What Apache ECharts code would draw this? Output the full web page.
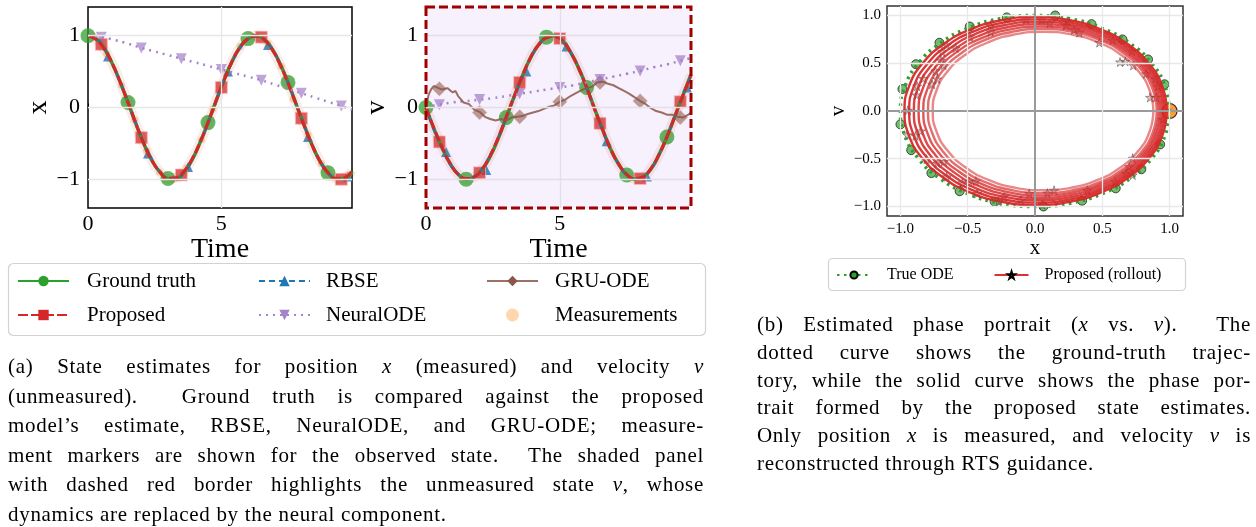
<!DOCTYPE html>
<html>
<head>
    <meta charset="utf-8">
    <title>State estimates and phase portrait</title>
    <script src="https://cdn.jsdelivr.net/npm/echarts@6/dist/echarts.min.js"></script>
    <style type="text/css">
        * { margin: 0; padding: 0; }
        body { width: 1256px; height: 527px; background: #fff; position: relative; overflow: hidden; }
        #main { position: absolute; left: 0; top: 0; width: 1256px; height: 527px; }
        .cap { position: absolute; font-family: "Liberation Serif", serif; font-size: 21px; letter-spacing: 0.7px; color: #000; }
        .cap div { text-align: justify; text-align-last: justify; }
        .cap div.last { text-align-last: left; }
    </style>
</head>
<body>
<div id="main"></div>
<div class="cap" style="left:8px; top:352px; width:696px; line-height:29.5px;">
    <div>(a) State estimates for position <i>x</i> (measured) and velocity <i>v</i></div>
    <div>(unmeasured).&nbsp; Ground truth is compared against the proposed</div>
    <div>model’s estimate, RBSE, NeuralODE, and GRU-ODE; measure-</div>
    <div>ment markers are shown for the observed state.&nbsp; The shaded panel</div>
    <div>with dashed red border highlights the unmeasured state <i>v</i>, whose</div>
    <div class="last">dynamics are replaced by the neural component.</div>
</div>
<div class="cap" style="left:757px; top:311px; width:494px; line-height:27.8px;">
    <div>(b) Estimated phase portrait (<i>x</i> vs. <i>v</i>).&nbsp; The</div>
    <div>dotted curve shows the ground-truth trajec-</div>
    <div>tory, while the solid curve shows the phase por-</div>
    <div>trait formed by the proposed state estimates.</div>
    <div>Only position <i>x</i> is measured, and velocity <i>v</i> is</div>
    <div class="last">reconstructed through RTS guidance.</div>
</div>
<script type="text/javascript">
    // ---- data ----
    var timeGrid = [0,0.3,0.6,0.9,1.2,1.5,1.8,2.1,2.4,2.7,3.0,3.3,3.6,3.9,4.2,4.5,4.8,5.1,5.4,5.7,6.0,6.3,6.6,6.9,7.2,7.5,7.8,8.1,8.4,8.7,9.0,9.3,9.6,9.9];
    var truthX = [1.00,0.96,0.83,0.62,0.36,0.07,-0.23,-0.51,-0.74,-0.90,-0.99,-0.99,-0.90,-0.73,-0.49,-0.21,0.09,0.38,0.64,0.84,0.96,1.00,0.95,0.82,0.61,0.35,0.05,-0.24,-0.52,-0.75,-0.91,-0.99,-0.99,-0.89];
    var proposedX = [1.00,0.95,0.82,0.62,0.36,0.07,-0.23,-0.51,-0.74,-0.90,-0.99,-0.98,-0.89,-0.72,-0.49,-0.21,0.09,0.38,0.64,0.84,0.96,1.00,0.95,0.81,0.60,0.34,0.05,-0.25,-0.52,-0.75,-0.91,-0.99,-0.98,-0.88];
    var rbseX = [1.00,0.96,0.83,0.62,0.36,0.08,-0.22,-0.50,-0.73,-0.90,-0.98,-0.98,-0.90,-0.73,-0.49,-0.22,0.08,0.37,0.63,0.83,0.95,0.99,0.95,0.82,0.61,0.35,0.06,-0.24,-0.51,-0.74,-0.90,-0.99,-0.98,-0.89];
    var truthV = [0,-0.30,-0.56,-0.78,-0.93,-1.00,-0.97,-0.86,-0.68,-0.43,-0.14,0.16,0.44,0.69,0.87,0.98,1.00,0.93,0.77,0.55,0.28,-0.02,-0.31,-0.58,-0.79,-0.94,-1.00,-0.97,-0.86,-0.66,-0.41,-0.12,0.17,0.46];
    var proposedV = [0,-0.29,-0.55,-0.78,-0.93,-0.99,-0.97,-0.86,-0.67,-0.42,-0.13,0.16,0.44,0.69,0.87,0.97,0.99,0.93,0.77,0.55,0.28,-0.02,-0.31,-0.58,-0.79,-0.93,-0.99,-0.97,-0.85,-0.66,-0.41,-0.12,0.17,0.45];
    var rbseV = [0,-0.31,-0.57,-0.79,-0.93,-0.99,-0.96,-0.85,-0.66,-0.42,-0.14,0.15,0.43,0.68,0.86,0.97,0.99,0.92,0.77,0.55,0.28,-0.03,-0.32,-0.59,-0.79,-0.94,-0.99,-0.96,-0.85,-0.66,-0.41,-0.12,0.17,0.45];

    var neuralT = [0,0.5,1,1.5,2,2.5,3,3.5,4,4.5,5,5.5,6,6.5,7,7.5,8,8.5,9,9.5,9.9];
    var neuralX = [1.00,0.98,0.94,0.89,0.83,0.78,0.73,0.68,0.63,0.58,0.53,0.48,0.43,0.38,0.32,0.26,0.20,0.14,0.08,0.02,-0.03];
    var neuralV = [0.00,0.04,0.07,0.09,0.11,0.13,0.16,0.19,0.22,0.25,0.28,0.31,0.35,0.39,0.43,0.47,0.51,0.56,0.60,0.65,0.69];

    var gruT = [0,0.1,0.2,0.3,0.4,0.6,0.8,1.0,1.1,1.2,1.4,1.6,1.8,2.0,2.2,2.4,2.6,2.8,3.0,3.2,3.4,3.6,3.8,4.0,4.2,4.4,4.6,4.8,5.0,5.2,5.4,5.6,5.8,6.0,6.2,6.4,6.6,6.8,7.0,7.2,7.4,7.6,7.8,8.0,8.2,8.4,8.6,8.8,9.0,9.2,9.4,9.6,9.8,9.9];
    var gruV = [0.00,0.18,0.26,0.30,0.28,0.25,0.27,0.21,0.23,0.16,0.07,0.05,-0.03,-0.06,-0.13,-0.16,-0.18,-0.16,-0.18,-0.14,-0.13,-0.12,-0.09,-0.07,-0.05,-0.02,0.01,0.03,0.08,0.11,0.16,0.20,0.24,0.27,0.29,0.35,0.36,0.33,0.31,0.27,0.23,0.19,0.14,0.09,0.05,-0.01,-0.05,-0.07,-0.10,-0.10,-0.13,-0.14,-0.10,-0.07];

    // marker positions
    var truthMarkT = [0,1.5,3.0,4.5,6.0,7.5,9.0];
    var truthMarkX = [1.00,0.07,-0.99,-0.21,0.96,0.35,-0.91];
    var truthMarkV = [0.00,-1.00,-0.14,0.98,0.28,-0.94,-0.41];
    var propMarkT = [0.5,2.0,3.5,5.0,6.5,8.0,9.5];
    var propMarkX = [0.88,-0.42,-0.94,0.28,0.98,-0.15,-1.00];
    var propMarkV = [-0.48,-0.91,0.35,0.96,-0.22,-0.99,0.08];
    var rbseMarkT = [0.75,2.25,3.75,5.25,6.75,8.25,9.75];
    var rbseMarkX = [0.71,-0.64,-0.83,0.50,0.87,-0.41,-0.96];
    var rbseMarkV = [-0.62,-0.87,0.50,0.85,-0.47,-0.96,0.28];
    var neuralMarkX = [0.98,0.83,0.68,0.53,0.38,0.20,0.02];
    var neuralMarkV = [0.04,0.11,0.19,0.28,0.39,0.51,0.65];
    var gruMarkV = [0.26,-0.07,-0.13,0.08,0.35,0.09,-0.14];
    var measT = [0.25,0.7,1.25,1.75,2.2,2.68,3.2,3.7,4.25,4.68,5.2,5.7,6.2,6.75,7.25,7.69,8.25,8.75,9.25,9.75];
    var measX = [0.98,0.75,0.31,-0.17,-0.60,-0.90,-1.00,-0.84,-0.45,-0.02,0.47,0.85,0.99,0.89,0.57,0.12,-0.38,-0.78,-0.98,-0.94];

    // phase portrait
    var trueCircle = [[1,0],[0.966,0.259],[0.866,0.5],[0.707,0.707],[0.5,0.866],[0.259,0.966],[0,1],[-0.259,0.966],[-0.5,0.866],[-0.707,0.707],[-0.866,0.5],[-0.966,0.259],[-1,0],[-0.966,-0.259],[-0.866,-0.5],[-0.707,-0.707],[-0.5,-0.866],[-0.259,-0.966],[0,-1],[0.259,-0.966],[0.5,-0.866],[0.707,-0.707],[0.866,-0.5],[0.966,-0.259],[1,0]];
    var trueMarkers = [[-0.21,0.98],[-0.485,0.885],[-0.71,0.715],[-0.885,0.49],[-0.985,0.23],[-1.0,-0.14],[-0.92,-0.41],[-0.77,-0.65],[-0.56,-0.84],[-0.30,-0.95],[0.15,1.0],[0.42,0.91],[0.65,0.75],[0.84,0.54],[0.963,0.28],[0.93,-0.35],[0.79,-0.61],[0.60,-0.81],[0.35,-0.94],[0.063,-1.0]];
    var loop1 = [[0.98,0],[0.947,0.255],[0.849,0.493],[0.694,0.696],[0.493,0.853],[0.258,0.951],[0.005,0.985],[-0.248,0.951],[-0.483,0.853],[-0.684,0.696],[-0.839,0.493],[-0.937,0.255],[-0.97,0],[-0.937,-0.255],[-0.839,-0.493],[-0.684,-0.696],[-0.483,-0.853],[-0.248,-0.951],[0.005,-0.985],[0.258,-0.951],[0.493,-0.853],[0.694,-0.696],[0.849,-0.493],[0.947,-0.255],[0.98,0]];
    var loop2 = [[0.965,0],[0.933,0.249],[0.838,0.48],[0.687,0.679],[0.49,0.831],[0.261,0.927],[0.015,0.96],[-0.231,0.927],[-0.46,0.831],[-0.657,0.679],[-0.808,0.48],[-0.903,0.249],[-0.935,0],[-0.903,-0.249],[-0.808,-0.48],[-0.657,-0.679],[-0.46,-0.831],[-0.231,-0.927],[0.015,-0.96],[0.261,-0.927],[0.49,-0.831],[0.687,-0.679],[0.838,-0.48],[0.933,-0.249],[0.965,0]];
    var loop3 = [[0.95,0],[0.919,0.242],[0.826,0.468],[0.679,0.661],[0.488,0.81],[0.265,0.903],[0.025,0.935],[-0.215,0.903],[-0.438,0.81],[-0.629,0.661],[-0.776,0.468],[-0.869,0.242],[-0.9,0],[-0.869,-0.242],[-0.776,-0.468],[-0.629,-0.661],[-0.438,-0.81],[-0.215,-0.903],[0.025,-0.935],[0.265,-0.903],[0.488,-0.81],[0.679,-0.661],[0.826,-0.468],[0.919,-0.242],[0.95,0]];
    var loop4 = [[0.935,0],[0.904,0.236],[0.814,0.455],[0.671,0.643],[0.485,0.788],[0.268,0.879],[0.035,0.91],[-0.198,0.879],[-0.415,0.788],[-0.601,0.643],[-0.744,0.455],[-0.834,0.236],[-0.865,0],[-0.834,-0.236],[-0.744,-0.455],[-0.601,-0.643],[-0.415,-0.788],[-0.198,-0.879],[0.035,-0.91],[0.268,-0.879],[0.485,-0.788],[0.671,-0.643],[0.814,-0.455],[0.904,-0.236],[0.935,0]];
    var loop5 = [[0.92,0],[0.89,0.229],[0.803,0.443],[0.664,0.626],[0.483,0.766],[0.272,0.855],[0.045,0.885],[-0.182,0.855],[-0.393,0.766],[-0.574,0.626],[-0.713,0.443],[-0.8,0.229],[-0.83,0],[-0.8,-0.229],[-0.713,-0.443],[-0.574,-0.626],[-0.393,-0.766],[-0.182,-0.855],[0.045,-0.885],[0.272,-0.855],[0.483,-0.766],[0.664,-0.626],[0.803,-0.443],[0.89,-0.229],[0.92,0]];
    var loop6 = [[0.905,0],[0.876,0.223],[0.791,0.43],[0.656,0.608],[0.48,0.745],[0.275,0.831],[0.055,0.86],[-0.165,0.831],[-0.37,0.745],[-0.546,0.608],[-0.681,0.43],[-0.766,0.223],[-0.795,0],[-0.766,-0.223],[-0.681,-0.43],[-0.546,-0.608],[-0.37,-0.745],[-0.165,-0.831],[0.055,-0.86],[0.275,-0.831],[0.48,-0.745],[0.656,-0.608],[0.791,-0.43],[0.876,-0.223],[0.905,0]];
    var loop7 = [[0.88,0],[0.852,0.215],[0.77,0.415],[0.64,0.587],[0.47,0.719],[0.272,0.802],[0.06,0.83],[-0.152,0.802],[-0.35,0.719],[-0.52,0.587],[-0.65,0.415],[-0.732,0.215],[-0.76,0],[-0.732,-0.215],[-0.65,-0.415],[-0.52,-0.587],[-0.35,-0.719],[-0.152,-0.802],[0.06,-0.83],[0.272,-0.802],[0.47,-0.719],[0.64,-0.587],[0.77,-0.415],[0.852,-0.215],[0.88,0]];
    var rolloutLoops = [loop1, loop2, loop3, loop4, loop5, loop6, loop7];
    var loopOpacity = [0.95, 0.92, 0.88, 0.84, 0.78, 0.68, 0.55];
    var rolloutStars = [[-0.067,0.955],[-0.33,0.90],[-0.33,0.83],[-0.485,0.78],[-0.655,0.69],[-0.59,0.66],[-0.69,0.62],[-0.70,0.53],[-0.68,0.48],[-0.74,0.42],[-0.83,0.34],[-0.727,0.335],[-0.765,0.28],[-0.876,0.26],[-0.88,0.167],[-0.945,0.007],[-0.95,-0.25],[-0.888,-0.26],[-0.85,-0.21],[-0.806,-0.505],[-0.726,-0.547],[-0.677,-0.53],[-0.657,-0.69],[-0.54,-0.752],[-0.49,-0.74],[-0.44,-0.735],[-0.43,-0.865],[-0.23,-0.90],[-0.105,-0.935],[-0.043,-0.865],[-0.27,-0.95],[0.05,0.955],[0.109,0.92],[0.24,0.94],[0.23,0.895],[0.29,0.85],[0.33,0.82],[0.478,0.717],[0.577,0.742],[0.632,0.513],[0.672,0.52],[0.72,0.626],[0.73,0.477],[0.826,0.39],[0.895,0.336],[0.913,0.258],[0.855,0.142],[0.90,0.142],[0.95,-0.088],[0.726,-0.495],[0.70,-0.584],[0.676,-0.654],[0.726,-0.671],[0.597,-0.742],[0.39,-0.83],[0.142,-0.83],[0.092,-0.86],[0.055,-0.98]];
    var startPoint = [[1.0, 0.0]];

    // tick values
    var timeTicks = [0, 5];
    var stateTicks = [-1, 0, 1];
    var phaseTicks = [-1, -0.5, 0, 0.5, 1];

    // ---- layout ----
    var SERIF = '"Liberation Serif", "Times New Roman", serif';
    var boxX = {left: 88, top: 7, width: 264, height: 201};
    var boxV = {left: 426, top: 7, width: 265, height: 201};
    var boxP = {left: 887, top: 6, width: 296, height: 210};
    var STAR = 'path://M50,0 L61,35 L98,35 L68,57 L79,91 L50,70 L21,91 L32,57 L2,35 L39,35 Z';

    function pairs(t, y) {
        return t.map(function (v, i) { return [v, y[i]]; });
    }
    function minusFmt(v) {
        return v < 0 ? '\u2212' + Math.abs(v) : String(v);
    }
    function minusFmt1(v) {
        return (v < 0 ? '\u2212' : '') + Math.abs(v).toFixed(1);
    }

    function timeAxis(gi) {
        return {
            type: 'value', gridIndex: gi, min: 0, max: 9.9,
            name: 'Time', nameLocation: 'middle', nameGap: 23,
            nameTextStyle: {fontFamily: SERIF, fontSize: 28, color: '#000'},
            axisLine: {show: false},
            axisTick: {show: true, inside: true, length: 4, customValues: timeTicks, lineStyle: {color: '#000'}},
            axisLabel: {customValues: timeTicks, formatter: minusFmt, fontFamily: SERIF, fontSize: 22, color: '#000', margin: 5},
            splitLine: {show: false}
        };
    }
    function stateAxis(gi, label) {
        return {
            type: 'value', gridIndex: gi, min: -1.4, max: 1.4,
            name: label, nameLocation: 'middle', nameGap: 34,
            nameTextStyle: {fontFamily: SERIF, fontSize: 28, color: '#000'},
            axisLine: {show: false},
            axisTick: {show: true, inside: true, length: 4, customValues: stateTicks, lineStyle: {color: '#000'}},
            axisLabel: {customValues: stateTicks, formatter: minusFmt, fontFamily: SERIF, fontSize: 22, color: '#000', margin: 8},
            splitLine: {show: false}
        };
    }
    function phaseAxis(label, gap) {
        return {
            type: 'value', gridIndex: 2, min: -1.1, max: 1.1,
            name: label, nameLocation: 'middle', nameGap: gap,
            nameTextStyle: {fontFamily: SERIF, fontSize: 21, color: '#000'},
            axisLine: {show: false},
            axisTick: {show: true, inside: true, length: 4, customValues: phaseTicks, lineStyle: {color: '#333'}},
            axisLabel: {customValues: phaseTicks, formatter: minusFmt1, fontFamily: SERIF, fontSize: 15, color: '#000', margin: 6},
            splitLine: {show: false}
        };
    }

    // gridlines are drawn as mark lines (ticks are not multiples of the axis min)
    function gridLines(gi, items, color) {
        return {
            type: 'line', xAxisIndex: gi, yAxisIndex: gi, data: [], silent: true,
            markLine: {
                silent: true, symbol: 'none', animation: false, label: {show: false},
                lineStyle: {color: color, width: 1.3, type: 'solid'},
                data: items
            }
        };
    }

    function lineSeries(gi, name, t, y, color, type, width, symbol, extra) {
        var s = {
            type: 'line', name: name, xAxisIndex: gi, yAxisIndex: gi,
            data: pairs(t, y), smooth: true, showSymbol: false,
            symbol: symbol, symbolSize: 11,
            itemStyle: {color: color},
            lineStyle: {color: color, width: width, type: type, cap: 'butt'}
        };
        for (var k in extra) { s[k] = extra[k]; }
        return s;
    }
    function markerSeries(gi, name, t, y, symbol, size, itemStyle, rotate) {
        return {
            type: 'scatter', name: name, xAxisIndex: gi, yAxisIndex: gi,
            data: pairs(t, y), symbol: symbol, symbolSize: size,
            symbolRotate: rotate || 0, itemStyle: itemStyle
        };
    }

    var green = '#2ca02c', red = '#d62728', blue = '#1f77b4', brown = '#8c564b';

    var series = [];
    // grid lines first
    series.push(gridLines(0, [{yAxis: -1}, {yAxis: 0}, {yAxis: 1}, {xAxis: 5}], '#e6e6e6'));
    series.push(gridLines(1, [{yAxis: -1}, {yAxis: 0}, {yAxis: 1}, {xAxis: 5}], '#e2dfe8'));
    series.push(gridLines(2, phaseTicks.map(function (v) {
        return v === 0 ? {yAxis: v, lineStyle: {color: '#9a9a9a', width: 2}} : {yAxis: v};
    }).concat(phaseTicks.map(function (v) {
        return v === 0 ? {xAxis: v, lineStyle: {color: '#9a9a9a', width: 2}} : {xAxis: v};
    })), '#e8e8e8'));

    // lines for both state panels (legend takes the first series of each name)
    [[0, truthX, proposedX, rbseX, neuralX], [1, truthV, proposedV, rbseV, neuralV]].forEach(function (p) {
        var gi = p[0];
        series.push(lineSeries(gi, 'Ground truth', timeGrid, p[1], green, 'solid', 3.5, 'circle', {}));
        series.push(lineSeries(gi, 'RBSE', timeGrid, p[3], blue, [6, 4], 2.5, 'triangle', {}));
        series.push({type: 'line', name: 'halo', xAxisIndex: gi, yAxisIndex: gi, data: pairs(timeGrid, p[2]),
            smooth: true, showSymbol: false, silent: true,
            lineStyle: {color: 'rgba(214,39,40,0.09)', width: 10}});
        series.push(lineSeries(gi, 'Proposed', timeGrid, p[2], red, [10, 3], 3, 'rect', {}));
        series.push(lineSeries(gi, 'NeuralODE', neuralT, p[4], '#a483c9', [2, 5], 2.5, 'triangle', {symbolRotate: 180}));
    });
    series.push({
        type: 'line', name: 'GRU-ODE', xAxisIndex: 1, yAxisIndex: 1, data: pairs(gruT, gruV),
        showSymbol: false, symbol: 'diamond', symbolSize: 12,
        itemStyle: {color: brown}, lineStyle: {color: 'rgba(140,86,75,0.85)', width: 2}
    });

    // measurements (x only)
    series.push(markerSeries(0, 'Measurements', measT, measX, 'circle', 7, {color: 'rgba(255,187,120,0.75)'}));

    // markers, panel x
    series.push(markerSeries(0, 'Ground truth', truthMarkT, truthMarkX, 'circle', 15, {color: 'rgba(44,160,44,0.92)'}));
    series.push(markerSeries(0, 'RBSE', rbseMarkT, rbseMarkX, 'triangle', 10, {color: blue}));
    series.push(markerSeries(0, 'Proposed', propMarkT, propMarkX, 'rect', 12, {color: 'rgba(214,39,40,0.92)', borderColor: 'rgba(255,190,190,0.9)', borderWidth: 1}));
    series.push(markerSeries(0, 'NeuralODE', propMarkT, neuralMarkX, 'triangle', 11, {color: 'rgba(148,103,189,0.75)'}, 180));
    // markers, panel v
    series.push(markerSeries(1, 'GRU-ODE', propMarkT, gruMarkV, 'diamond', 15, {color: 'rgba(140,86,75,0.72)', borderColor: 'rgba(255,220,220,0.7)', borderWidth: 1}));
    series.push(markerSeries(1, 'Ground truth', truthMarkT, truthMarkV, 'circle', 15, {color: 'rgba(44,160,44,0.92)'}));
    series.push(markerSeries(1, 'RBSE', rbseMarkT, rbseMarkV, 'triangle', 10, {color: blue}));
    series.push(markerSeries(1, 'Proposed', propMarkT, propMarkV, 'rect', 12, {color: 'rgba(214,39,40,0.92)', borderColor: 'rgba(255,190,190,0.9)', borderWidth: 1}));
    series.push(markerSeries(1, 'NeuralODE', propMarkT, neuralMarkV, 'triangle', 11, {color: 'rgba(148,103,189,0.75)'}, 180));

    // phase portrait
    series.push({
        type: 'line', name: 'True ODE', xAxisIndex: 2, yAxisIndex: 2, data: trueCircle,
        smooth: true, showSymbol: false, symbol: 'circle', symbolSize: 8,
        itemStyle: {color: green, borderColor: '#000', borderWidth: 1},
        lineStyle: {color: green, width: 3.5, type: [2.5, 4.5], cap: 'butt'}
    });
    series.push({
        type: 'scatter', name: 'True ODE', xAxisIndex: 2, yAxisIndex: 2, data: trueMarkers,
        symbol: 'circle', symbolSize: 9,
        itemStyle: {color: 'rgba(44,160,44,0.85)', borderColor: '#222', borderWidth: 1}
    });
    rolloutLoops.forEach(function (loop, i) {
        series.push({
            type: 'line', name: 'Proposed (rollout)', xAxisIndex: 2, yAxisIndex: 2, data: loop,
            smooth: 0.5, showSymbol: false, symbol: STAR, symbolSize: 10,
            itemStyle: {color: red, borderColor: '#000', borderWidth: 0.6},
            lineStyle: {color: red, width: 2.4, opacity: loopOpacity[i]}
        });
    });
    series.push({
        type: 'scatter', name: 'rollout stars', xAxisIndex: 2, yAxisIndex: 2, data: rolloutStars,
        symbol: STAR, symbolSize: 9,
        itemStyle: {color: 'rgba(150,140,140,0.55)', borderColor: 'rgba(60,30,30,0.7)', borderWidth: 0.8}
    });
    series.push({
        type: 'scatter', name: 'start', xAxisIndex: 2, yAxisIndex: 2, data: startPoint,
        symbol: 'circle', symbolSize: 15,
        itemStyle: {color: '#ff7f0e', borderColor: '#000', borderWidth: 1.2}
    });

    var legendText = {fontFamily: SERIF, fontSize: 21, color: '#000', lineHeight: 24};
    function stateLegend(names, left, pad) {
        return {
            data: names, orient: 'vertical', left: left, top: 269, padding: 0,
            itemWidth: 51, itemHeight: 13, itemGap: 10, selectedMode: false,
            textStyle: Object.assign({padding: [0, 0, 0, pad]}, legendText)
        };
    }

    var option = {
        animation: false,
        grid: [
            Object.assign({show: true, borderColor: '#000', borderWidth: 1.5, backgroundColor: '#fff'}, boxX),
            Object.assign({show: true, borderWidth: 0, backgroundColor: '#f6f1fd'}, boxV),
            Object.assign({show: true, borderColor: '#333', borderWidth: 1.5, backgroundColor: '#fff'}, boxP)
        ],
        xAxis: [timeAxis(0), timeAxis(1), phaseAxis('x', 20)],
        yAxis: [stateAxis(0, 'x'), stateAxis(1, 'v'), phaseAxis('v', 38)],
        legend: [
            stateLegend(['Ground truth', 'Proposed'], 17, 13),
            stateLegend(['RBSE', 'NeuralODE'], 258, 11),
            stateLegend(['GRU-ODE', 'Measurements'], 486, 12),
            {
                data: ['True ODE', 'Proposed (rollout)'], orient: 'horizontal', left: 836, top: 265, padding: 0,
                itemWidth: 34, itemHeight: 9, itemGap: 40, selectedMode: false,
                textStyle: {fontFamily: SERIF, fontSize: 16, color: '#000', lineHeight: 20, padding: [0, 0, 0, 11]}
            }
        ],
        graphic: [
            {type: 'rect', silent: true, z: 100,
                shape: {x: boxV.left, y: boxV.top, width: boxV.width, height: boxV.height},
                style: {fill: 'none', stroke: '#a00000', lineWidth: 3, lineDash: [9, 4]}},
            {type: 'rect', silent: true, z: -1,
                shape: {x: 8.5, y: 263.5, width: 697, height: 72, r: 5},
                style: {fill: 'none', stroke: '#d2d2d2', lineWidth: 1.2}},
            {type: 'rect', silent: true, z: -1,
                shape: {x: 828.5, y: 258.5, width: 357, height: 32, r: 4},
                style: {fill: 'none', stroke: '#d2d2d2', lineWidth: 1.2}}
        ],
        series: series
    };

    var myChart = echarts.init(document.getElementById('main'));
    myChart.setOption(option);

    window.addEventListener('resize', function () {
        myChart.resize();
    });
</script>
</body>
</html>
